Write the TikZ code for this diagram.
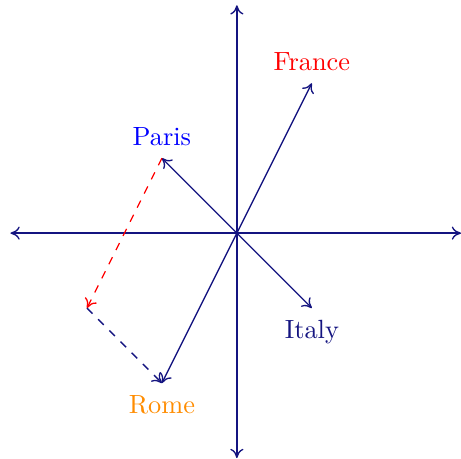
\documentclass[tikz,border=0pt]{standalone}
\usetikzlibrary{arrows.meta}
\definecolor{navyc}{RGB}{20,20,128}
\definecolor{orangec}{RGB}{255,140,0}
\begin{document}
\begin{tikzpicture}[
  line width=0.5pt,
  tip/.tip={To[length=3.5pt,width=5pt]},
  vec/.style={draw=navyc,-tip},
  axis/.style={draw=navyc,tip-tip},
  lbl/.style={inner sep=1pt}
]
\useasboundingbox (-3.16,-3.0) rectangle (2.99,3.11);
\coordinate (O) at (0,0);
\coordinate (xl) at (-3.02,0);
\coordinate (xr) at (2.99,0);
\coordinate (yb) at (0,-3.0);
\coordinate (yt) at (0,3.04);
\coordinate (F) at (1,2);
\coordinate (P) at (-1,1);
\coordinate (I) at (1,-1);
\coordinate (R) at (-1,-2);
\coordinate (D) at (-2,-1);
\draw[axis] (xl) -- (xr);
\draw[axis] (yb) -- (yt);
\draw[vec] (O) -- (F);
\draw[vec] (O) -- (P);
\draw[vec] (O) -- (I);
\draw[vec] (O) -- (R);
\draw[red,dashed,-tip] (P) -- (D);
\draw[navyc,dashed,-tip] (D) -- (R);
\node[lbl,red,anchor=south] (lF) at (1,2.12) {France};
\node[lbl,blue,anchor=south] (lP) at (-1,1.12) {Paris};
\node[lbl,navyc,anchor=north] (lI) at (1,-1.12) {Italy};
\node[lbl,orangec,anchor=north] (lR) at (-1,-2.12) {Rome};
\end{tikzpicture}
\end{document}
